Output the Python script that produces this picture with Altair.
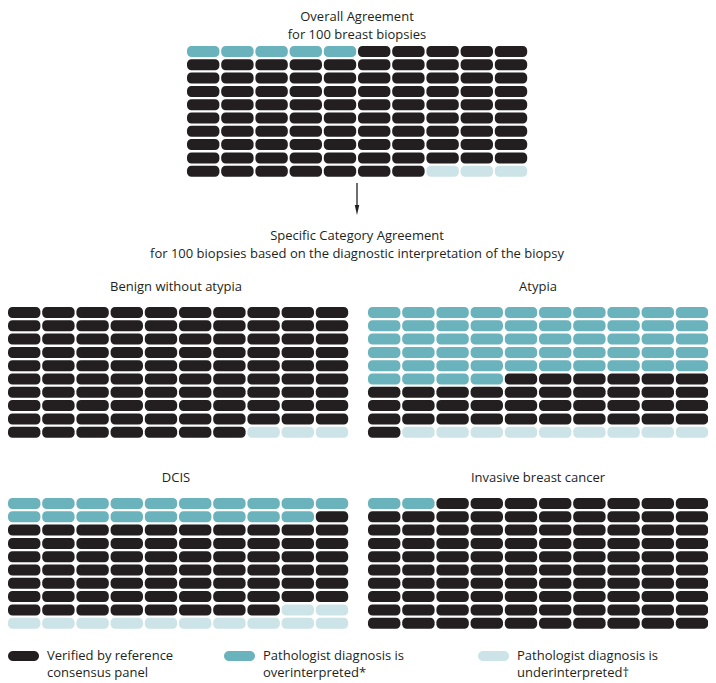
import altair as alt
import pandas as pd

# ---------------- data ----------------
panels = ["Overall Agreement", "Benign without atypia", "Atypia", "DCIS", "Invasive breast cancer"]
over_counts = [5, 0, 54, 19, 2]          # pathologist overinterpreted
verified_counts = [92, 97, 37, 69, 98]   # verified by reference panel
under_counts = [3, 3, 9, 12, 0]          # pathologist underinterpreted

status_keys = ["verified", "over", "under"]
status_labels = [
    ["Verified by reference", "consensus panel"],
    ["Pathologist diagnosis is", "overinterpreted*"],
    ["Pathologist diagnosis is", "underinterpreted\u2020"],
]
status_colors = ["#231F20", "#6AB3BC", "#CCE3E7"]

top_title = ["Overall Agreement", "for 100 breast biopsies"]
mid_title = ["Specific Category Agreement",
             "for 100 biopsies based on the diagnostic interpretation of the biopsy"]

# ---------------- layout (page pixels) ----------------
W, H = 700, 675
X0, Y0 = 8, 8
panel_origin = {
    "Overall Agreement": (187, 46),
    "Benign without atypia": (8, 307),
    "Atypia": (368, 307),
    "DCIS": (8, 498),
    "Invasive breast cancer": (368, 498),
}
PITCH_X, PITCH_Y, CELL_W, CELL_H = 34.2, 13.3, 32.4, 11.0
FONT = "Open Sans"
INK = "#231F20"

cells = []
for p, o, v, u in zip(panels, over_counts, verified_counts, under_counts):
    seq = ["over"] * o + ["verified"] * v + ["under"] * u
    ox, oy = panel_origin[p]
    for i, s in enumerate(seq):
        c, r = i % 10, i // 10
        x = ox + c * PITCH_X
        y = oy + r * PITCH_Y
        cells.append({"panel": p, "status": s, "x": x, "x2": x + CELL_W,
                      "y": y, "y2": y + CELL_H})
cells_df = pd.DataFrame(cells)

xs = alt.Scale(domain=[X0, X0 + W], nice=False, zero=False)
ys = alt.Scale(domain=[Y0, Y0 + H], nice=False, zero=False, reverse=True)
cs = alt.Scale(domain=status_keys, range=status_colors)

grid = alt.Chart(cells_df).mark_rect(cornerRadius=4.5).encode(
    x=alt.X("x:Q", scale=xs, axis=None),
    x2="x2:Q",
    y=alt.Y("y:Q", scale=ys, axis=None),
    y2="y2:Q",
    color=alt.Color("status:N", scale=cs, legend=None),
)

# titles (centered)
title_rows = [
    {"text": top_title[0], "x": 357, "y": 17},
    {"text": top_title[1], "x": 357, "y": 35},
    {"text": mid_title[0], "x": 357, "y": 236},
    {"text": mid_title[1], "x": 357, "y": 254},
    {"text": panels[1], "x": 176, "y": 287},
    {"text": panels[2], "x": 538, "y": 287},
    {"text": panels[3], "x": 176, "y": 478},
    {"text": panels[4], "x": 538, "y": 478},
]
titles = alt.Chart(pd.DataFrame(title_rows)).mark_text(
    font=FONT, fontSize=13, fontWeight=500, color=INK, align="center", baseline="middle"
).encode(x=alt.X("x:Q", scale=xs, axis=None), y=alt.Y("y:Q", scale=ys, axis=None), text="text:N")

# arrow
arrow_df = pd.DataFrame([{"x": 357, "y": 183, "y2": 208}])
shaft = alt.Chart(arrow_df).mark_rule(color=INK, strokeWidth=1.3).encode(
    x=alt.X("x:Q", scale=xs, axis=None), y=alt.Y("y:Q", scale=ys, axis=None), y2="y2:Q")
head = alt.Chart(pd.DataFrame([{"x": 357, "y": 210}])).mark_point(
    shape="M-0.45,-1L0.45,-1L0,1Z", size=100, filled=True, color=INK, opacity=1
).encode(x=alt.X("x:Q", scale=xs, axis=None), y=alt.Y("y:Q", scale=ys, axis=None))

# legend
leg_x = [8, 224, 478]
sw_rows, lt_rows = [], []
for k, lx, lab in zip(status_keys, leg_x, status_labels):
    sw_rows.append({"status": k, "x": lx, "x2": lx + 31, "y": 651, "y2": 661})
    lt_rows.append({"text": lab[0], "x": lx + 39, "y": 656})
    lt_rows.append({"text": lab[1], "x": lx + 39, "y": 673})
swatches = alt.Chart(pd.DataFrame(sw_rows)).mark_rect(cornerRadius=5).encode(
    x=alt.X("x:Q", scale=xs, axis=None), x2="x2:Q",
    y=alt.Y("y:Q", scale=ys, axis=None), y2="y2:Q",
    color=alt.Color("status:N", scale=cs, legend=None))
leg_text = alt.Chart(pd.DataFrame(lt_rows)).mark_text(
    font=FONT, fontSize=13, color=INK, align="left", baseline="middle"
).encode(x=alt.X("x:Q", scale=xs, axis=None), y=alt.Y("y:Q", scale=ys, axis=None), text="text:N")

chart = alt.layer(grid, titles, shaft, head, swatches, leg_text).properties(
    width=W, height=H, padding=0, autosize=alt.AutoSizeParams(type="none"),
    background="white",
).configure_view(stroke=None)

chart.save("out.html", embed_options={"renderer": "svg", "actions": False})
